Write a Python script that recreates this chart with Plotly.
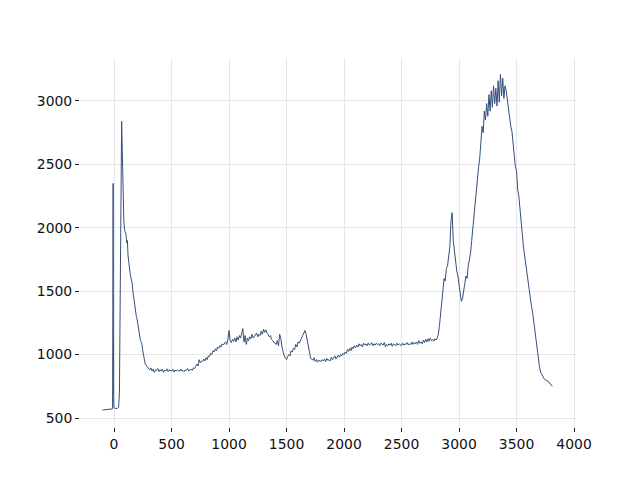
import plotly.graph_objects as go

wavenumber = [
    -100, -80, -60, -40, -20, -13, -10, -8, -6, -3, 0, 10, 20, 30, 40, 47, 54, 60, 66, 72, 78, 85, 92, 98,
    104, 110, 116, 122, 128, 134, 140, 146, 152, 158, 164, 170, 176, 182, 188, 194, 200, 206, 212, 218,
    224, 230, 236, 242, 248, 254, 260, 266, 272, 280, 290,
] + list(range(300, 2830, 10)) + list(range(2830, 3820, 10))

intensity = [
    563, 564, 565, 566, 568, 572, 1400, 2350, 1300, 620, 580, 576, 575, 576, 585, 700, 1500, 2300, 2840, 2600,
    2300, 2050, 1980, 1970, 1950, 1880, 1900, 1780, 1720, 1690, 1640, 1610, 1590, 1560, 1500, 1450, 1400,
    1380, 1340, 1300, 1280, 1240, 1200, 1180, 1150, 1110, 1100, 1085, 1040, 1000, 970, 950, 925, 915, 900,
    # 300 - 990
    890, 880, 895, 870, 885, 860, 880, 875, 890, 865, 880, 870, 885, 860, 878, 872, 888, 866, 880, 875,
    870, 885, 862, 878, 870, 880, 872, 868, 886, 870, 875, 865, 880, 876, 890, 870, 880, 885, 875, 895,
    890, 905, 925, 910, 960, 935, 950, 945, 965, 950, 975, 960, 990, 985, 1010, 1000, 1030, 1020, 1045, 1030,
    1060, 1050, 1070, 1060, 1085, 1075, 1090, 1100, 1080, 1120,
    # 1000 - 1690
    1190, 1110, 1095, 1120, 1105, 1130, 1100, 1140, 1115, 1150, 1130, 1180, 1205, 1100, 1150, 1080, 1130, 1110,
    1140, 1125, 1160, 1130, 1145, 1150, 1170, 1140, 1160, 1150, 1185, 1160, 1200, 1175, 1195, 1170, 1160, 1140,
    1150, 1120, 1110, 1100, 1095, 1080, 1110, 1070, 1160, 1130, 1060, 1020, 990, 970, 960, 985, 1000, 990,
    1030, 1020, 1050, 1040, 1080, 1060, 1100, 1090, 1120, 1130, 1150, 1170, 1190, 1160, 1110, 1050,
    # 1700 - 2390
    1000, 970, 965, 955, 975, 945, 960, 940, 955, 950, 945, 960, 950, 965, 945, 970, 955, 960, 950, 980,
    960, 975, 990, 965, 985, 995, 980, 1000, 990, 1010, 1000, 1020, 1010, 1040, 1025, 1050, 1030, 1060, 1045, 1070,
    1055, 1075, 1060, 1085, 1070, 1080, 1060, 1090, 1075, 1085, 1070, 1090, 1075, 1080, 1095, 1070, 1085, 1075, 1090, 1080,
    1085, 1070, 1090, 1080, 1075, 1095, 1060, 1080, 1070, 1085,
    # 2400 - 2820
    1075, 1090, 1065, 1085, 1080, 1070, 1090, 1075, 1085, 1080, 1070, 1090, 1075, 1085, 1080, 1095, 1075, 1085, 1080, 1100,
    1080, 1095, 1085, 1100, 1080, 1110, 1090, 1100, 1085, 1115, 1095, 1120, 1100, 1125, 1105, 1130, 1110, 1120, 1105, 1125,
    1115, 1130, 1160,
    # 2830 - 3810
    1230, 1330, 1420, 1500, 1600, 1580, 1680, 1700, 1760, 1850, 2050, 2120, 1900, 1820, 1700, 1660, 1620,
    1560, 1480, 1420, 1440, 1520, 1560, 1620, 1600, 1700, 1740, 1800, 1900, 2000, 2100, 2220, 2300, 2400, 2480,
    2550, 2700, 2800, 2750, 2920, 2850, 2980, 2880, 3050, 2920, 3080, 2950, 3120, 2980, 3100, 2960, 3160, 2990,
    3210, 3040, 3180, 3020, 3120, 3080, 3000, 2950, 2880, 2800, 2760, 2650, 2600, 2480, 2450, 2300, 2250, 2130,
    2050, 1950, 1850, 1780, 1700, 1620, 1560, 1500, 1440, 1380, 1330, 1250, 1170, 1100, 1030, 960, 900, 860,
    840, 820, 810, 800, 795, 790, 785, 770, 765, 750,
]

n = min(len(wavenumber), len(intensity))
wavenumber = wavenumber[:n]
intensity = intensity[:n]

x_ticks = [0, 500, 1000, 1500, 2000, 2500, 3000, 3500, 4000]
y_ticks = [500, 1000, 1500, 2000, 2500, 3000]

fig = go.Figure(go.Scatter(
    x=wavenumber, y=intensity, mode="lines",
    line=dict(color="#34507a", width=1),
    showlegend=False,
))

axis_common = dict(
    showline=False, zeroline=False,
    showgrid=True, gridcolor="#e6e6e6", gridwidth=1,
    ticks="outside", ticklen=4, tickwidth=1, tickcolor="#222222",
    tickfont=dict(family="DejaVu Sans", size=13.9, color="#111111"),
)

fig.update_layout(
    width=640, height=480,
    margin=dict(l=72, r=72, t=50, b=61),
    paper_bgcolor="white", plot_bgcolor="white",
    xaxis=dict(range=[-296, 4017], tickvals=x_ticks, ticktext=[str(v) for v in x_ticks], **axis_common),
    yaxis=dict(range=[429, 3339], tickvals=y_ticks, ticktext=[str(v) for v in y_ticks], **axis_common),
)

fig.write_html("out.html")
